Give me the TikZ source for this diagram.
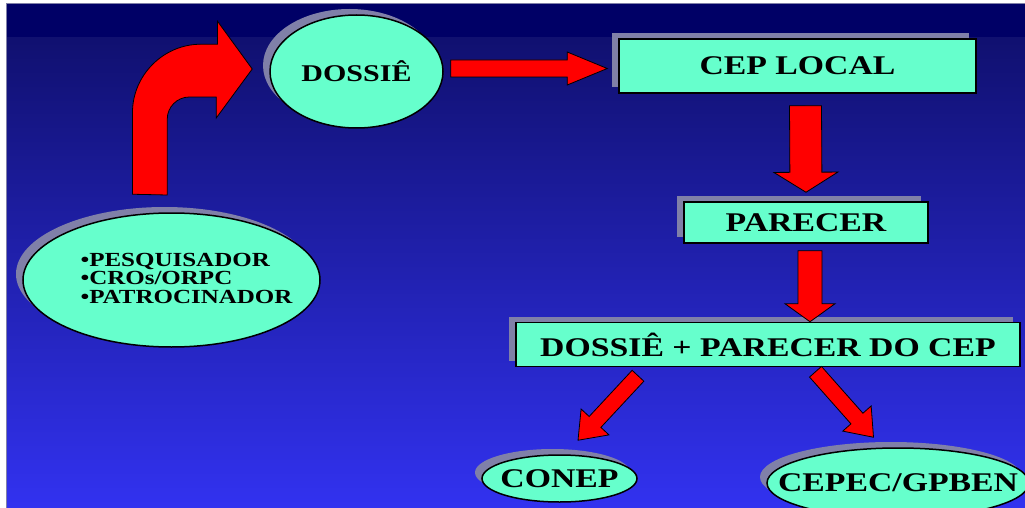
\documentclass[tikz,border=0pt]{standalone}
\usepackage{fontspec}
\setmainfont{Liberation Serif}[FakeStretch=1.25]
\usetikzlibrary{shapes.geometric,shadows,calc}

\definecolor{mint}{RGB}{102,255,204}
\definecolor{navytop}{RGB}{0,0,102}
\definecolor{bgtop}{RGB}{16,16,112}
\definecolor{bgbot}{RGB}{50,50,240}
\definecolor{shadowc}{RGB}{128,128,168}

\tikzset{
	box/.style={draw=black, line width=1.5pt, fill=mint, inner sep=0pt,
		general shadow={fill=shadowc, shadow xshift=-7pt, shadow yshift=6pt},
		font=\bfseries\fontsize{27}{30}\selectfont},
	oval/.style={box, ellipse},
	redarrow/.style={fill=red, draw=black, line width=0.8pt, line join=miter},
}

% block arrow: tail, tip, half shaft, half head, head length
\newcommand{\blockarrow}[5]{%
	\coordinate (hb) at ($(#2)!#5!(#1)$);
	\filldraw[redarrow] ($(#1)!#3!90:(#2)$) -- ($(hb)!#3!-90:(#1)$) -- ($(hb)!#4!-90:(#1)$)
		-- (#2) -- ($(hb)!#4!90:(#1)$) -- ($(hb)!#3!90:(#1)$) -- ($(#1)!#3!-90:(#2)$) -- cycle;
}

\begin{document}
\begin{tikzpicture}[x=1pt, y=-1pt]
	\useasboundingbox (0,0) rectangle (1025,508);
	\clip (0,0) rectangle (1025,508);
	\fill[white] (0,0) rectangle (1025,508);
	\fill[navytop] (6,4) rectangle (1025,38);
	\shade[top color=bgtop, bottom color=bgbot] (6,38) rectangle (1025,508);
	\draw[shadowc, line width=1pt] (6.5,508) -- (6.5,3.5) -- (1025,3.5);

	\node[oval, minimum width=173pt, minimum height=113pt, font=\bfseries\fontsize{24}{28}\selectfont] (dossie) at (356.5,71.5) {\makebox[0pt]{DOSSIÊ}};
	\node[oval, minimum width=297pt, minimum height=134pt] (src) at (171.5,280) {};
	\node[align=left, inner sep=0pt, font=\bfseries\fontsize{20}{18.5}\selectfont] (srctxt) at ([xshift=15pt, yshift=2pt]src.center) {•PESQUISADOR\\•CROs/ORPC\\•PATROCINADOR};
	\node[box, minimum width=357pt, minimum height=54pt] (cep) at (797.5,66) {CEP LOCAL};
	\node[box, minimum width=244pt, minimum height=41pt] (parecer) at (806,222.5) {PARECER};
	\node[box, minimum width=504pt, minimum height=44pt] (dp) at (768,344.5) {DOSSIÊ + PARECER DO CEP};
	\node[oval, minimum width=155pt, minimum height=47pt] (conep) at (559.5,478.5) {\makebox[0pt]{CONEP}};
	\node[oval, minimum width=262pt, minimum height=70pt] (cepec) at (898,483) {\makebox[0pt]{CEPEC/GPBEN}};

	% bent arrow up from the sources to the dossier
	\coordinate (bt) at ([xshift=-21pt, yshift=18pt]src.north);
	\coordinate (bh) at ([xshift=-17pt, yshift=2.5pt]dossie.west);
	\filldraw[redarrow] ([xshift=-18pt]bt) -- ++(0,-82) .. controls +(0,-37) and +(-37,0) .. ++(68,-68)
		-- ++(17,0) -- ++(0,-23) -- (bh) -- ++(-36,49) -- ++(0,-21) -- ++(-27,0)
		.. controls +(-12,0) and +(0,-12) .. ++(-22,22) -- ++(0,76) -- cycle;

	\coordinate (a1t) at ([xshift=7pt, yshift=3pt]dossie.east);
	\coordinate (a1h) at ([xshift=-11pt, yshift=-2.5pt]cep.west);
	\blockarrow{a1t}{a1h}{8.5pt}{16.5pt}{40pt}

	\coordinate (a2t) at ([xshift=8pt, yshift=-12pt]cep.south);
	\coordinate (a2h) at ([yshift=9pt]parecer.north);
	\blockarrow{a2t}{a2h}{16pt}{32pt}{20pt}

	\coordinate (a3t) at ([xshift=4pt, yshift=-7pt]parecer.south);
	\coordinate (a3h) at ([xshift=42pt]dp.north);
	\blockarrow{a3t}{a3h}{12pt}{25pt}{18pt}

	\coordinate (a4t) at ([xshift=-130pt, yshift=-8.5pt]dp.south);
	\coordinate (a4h) at ([xshift=18.5pt, yshift=14pt]conep.north);
	\blockarrow{a4t}{a4h}{8pt}{19pt}{25pt}

	\coordinate (a5t) at ([xshift=47.5pt, yshift=-4.5pt]dp.south);
	\coordinate (a5h) at ([xshift=-24.5pt, yshift=10pt]cepec.north);
	\blockarrow{a5t}{a5h}{8pt}{19pt}{25pt}
\end{tikzpicture}
\end{document}
